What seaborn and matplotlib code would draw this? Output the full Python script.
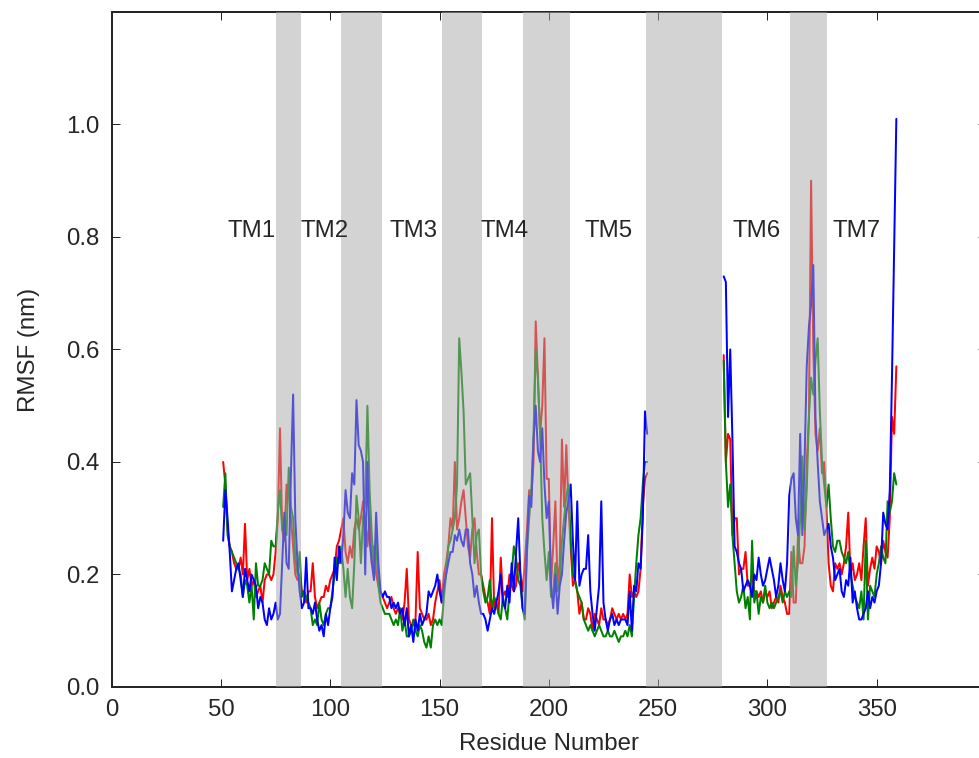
import numpy as np
import pandas as pd
import matplotlib
matplotlib.use("Agg")
import matplotlib.pyplot as plt
import seaborn as sns

# RMSF per residue, first block starts at residue 51, second at 280
red_a = [0.40, 0.36, 0.28, 0.25, 0.24, 0.22, 0.21, 0.21, 0.23, 0.20,
         0.29, 0.19, 0.21, 0.18, 0.19, 0.16, 0.17, 0.18, 0.15, 0.19,
         0.20, 0.20, 0.19, 0.20, 0.24, 0.30, 0.46, 0.28, 0.26, 0.36,
         0.35, 0.30, 0.25, 0.20, 0.19, 0.20, 0.17, 0.17, 0.15, 0.17,
         0.17, 0.22, 0.16, 0.14, 0.15, 0.16, 0.16, 0.18, 0.17, 0.19,
         0.20, 0.21, 0.25, 0.26, 0.28, 0.30, 0.24, 0.22, 0.25, 0.23,
         0.28, 0.30, 0.28, 0.30, 0.33, 0.30, 0.25, 0.30, 0.22, 0.25,
         0.20, 0.18, 0.17, 0.16, 0.15, 0.14, 0.15, 0.16, 0.14, 0.13,
         0.14, 0.13, 0.12, 0.15, 0.21, 0.12, 0.11, 0.11, 0.12, 0.24,
         0.14, 0.13, 0.12, 0.12, 0.13, 0.11, 0.12, 0.15, 0.17, 0.19,
         0.15, 0.20, 0.22, 0.25, 0.30, 0.28, 0.40, 0.28, 0.30, 0.33,
         0.35, 0.30, 0.25, 0.23, 0.28, 0.30, 0.24, 0.20, 0.20, 0.18,
         0.16, 0.15, 0.13, 0.30, 0.14, 0.15, 0.13, 0.23, 0.16, 0.17,
         0.16, 0.20, 0.18, 0.17, 0.18, 0.22, 0.20, 0.17, 0.22, 0.28,
         0.35, 0.34, 0.40, 0.65, 0.55, 0.45, 0.50, 0.62, 0.37, 0.37,
         0.18, 0.25, 0.33, 0.18, 0.22, 0.44, 0.32, 0.43, 0.32, 0.25,
         0.18, 0.19, 0.17, 0.13, 0.15, 0.12, 0.12, 0.14, 0.13, 0.10,
         0.13, 0.12, 0.11, 0.14, 0.12, 0.12, 0.11, 0.12, 0.14, 0.13,
         0.12, 0.13, 0.12, 0.13, 0.12, 0.13, 0.20, 0.16, 0.17, 0.16,
         0.17, 0.21, 0.32, 0.37, 0.38]
green_a = [0.32, 0.38, 0.27, 0.25, 0.24, 0.23, 0.22, 0.21, 0.20, 0.16,
           0.19, 0.18, 0.15, 0.18, 0.12, 0.22, 0.18, 0.18, 0.19, 0.22,
           0.21, 0.20, 0.26, 0.25, 0.25, 0.31, 0.35, 0.28, 0.30, 0.27,
           0.39, 0.32, 0.30, 0.23, 0.20, 0.24, 0.16, 0.17, 0.16, 0.15,
           0.14, 0.11, 0.12, 0.11, 0.15, 0.12, 0.11, 0.13, 0.14, 0.14,
           0.17, 0.20, 0.23, 0.22, 0.25, 0.21, 0.16, 0.21, 0.16, 0.14,
           0.22, 0.34, 0.30, 0.22, 0.30, 0.33, 0.50, 0.35, 0.27, 0.21,
           0.26, 0.18, 0.15, 0.14, 0.13, 0.13, 0.13, 0.12, 0.11, 0.12,
           0.11, 0.14, 0.10, 0.12, 0.09, 0.09, 0.10, 0.12, 0.10, 0.09,
           0.11, 0.10, 0.08, 0.07, 0.09, 0.07, 0.11, 0.12, 0.11, 0.12,
           0.11, 0.16, 0.20, 0.25, 0.26, 0.28, 0.30, 0.36, 0.62, 0.56,
           0.49, 0.36, 0.37, 0.38, 0.30, 0.22, 0.27, 0.28, 0.20, 0.17,
           0.15, 0.16, 0.19, 0.14, 0.16, 0.15, 0.13, 0.12, 0.16, 0.14,
           0.12, 0.17, 0.20, 0.25, 0.23, 0.19, 0.18, 0.14, 0.12, 0.24,
           0.30, 0.35, 0.45, 0.60, 0.55, 0.45, 0.30, 0.24, 0.19, 0.24,
           0.16, 0.17, 0.22, 0.17, 0.19, 0.26, 0.30, 0.34, 0.36, 0.26,
           0.20, 0.19, 0.17, 0.16, 0.15, 0.12, 0.11, 0.10, 0.11, 0.10,
           0.09, 0.10, 0.11, 0.10, 0.09, 0.09, 0.10, 0.09, 0.09, 0.10,
           0.09, 0.08, 0.09, 0.09, 0.10, 0.09, 0.11, 0.09, 0.16, 0.22,
           0.27, 0.30, 0.36, 0.40, 0.40]
blue_a = [0.26, 0.35, 0.30, 0.24, 0.17, 0.19, 0.21, 0.22, 0.19, 0.16,
          0.21, 0.19, 0.17, 0.20, 0.19, 0.18, 0.14, 0.16, 0.15, 0.12,
          0.11, 0.14, 0.12, 0.13, 0.15, 0.12, 0.13, 0.22, 0.31, 0.22,
          0.21, 0.38, 0.52, 0.30, 0.22, 0.17, 0.14, 0.15, 0.23, 0.14,
          0.14, 0.13, 0.15, 0.12, 0.10, 0.11, 0.09, 0.13, 0.11, 0.14,
          0.16, 0.23, 0.19, 0.25, 0.22, 0.27, 0.35, 0.31, 0.30, 0.38,
          0.36, 0.51, 0.43, 0.42, 0.40, 0.20, 0.40, 0.26, 0.22, 0.19,
          0.31, 0.22, 0.17, 0.16, 0.17, 0.16, 0.16, 0.14, 0.15, 0.14,
          0.15, 0.13, 0.14, 0.11, 0.14, 0.09, 0.11, 0.08, 0.12, 0.10,
          0.13, 0.11, 0.12, 0.13, 0.17, 0.16, 0.17, 0.18, 0.20, 0.17,
          0.15, 0.18, 0.20, 0.22, 0.24, 0.24, 0.27, 0.26, 0.28, 0.26,
          0.25, 0.28, 0.28, 0.22, 0.20, 0.16, 0.18, 0.15, 0.13, 0.13,
          0.12, 0.10, 0.12, 0.14, 0.13, 0.15, 0.17, 0.20, 0.15, 0.14,
          0.18, 0.15, 0.22, 0.17, 0.24, 0.30, 0.20, 0.14, 0.13, 0.25,
          0.34, 0.32, 0.44, 0.50, 0.42, 0.40, 0.46, 0.36, 0.30, 0.33,
          0.18, 0.14, 0.20, 0.13, 0.18, 0.20, 0.26, 0.31, 0.33, 0.36,
          0.26, 0.19, 0.33, 0.18, 0.20, 0.21, 0.21, 0.27, 0.17, 0.13,
          0.10, 0.14, 0.18, 0.33, 0.15, 0.12, 0.10, 0.12, 0.13, 0.11,
          0.12, 0.11, 0.12, 0.12, 0.12, 0.11, 0.17, 0.10, 0.18, 0.17,
          0.22, 0.21, 0.30, 0.49, 0.45]

red_b = [0.59, 0.40, 0.45, 0.44, 0.27, 0.30, 0.30, 0.20, 0.21, 0.21,
         0.24, 0.18, 0.18, 0.20, 0.17, 0.17, 0.16, 0.17, 0.15, 0.17,
         0.16, 0.17, 0.14, 0.15, 0.16, 0.15, 0.18, 0.16, 0.15, 0.13,
         0.13, 0.24, 0.15, 0.15, 0.27, 0.22, 0.22, 0.25, 0.40, 0.48,
         0.90, 0.60, 0.45, 0.42, 0.46, 0.38, 0.40, 0.32, 0.22, 0.18,
         0.17, 0.22, 0.21, 0.22, 0.20, 0.22, 0.25, 0.31, 0.20, 0.22,
         0.19, 0.20, 0.22, 0.19, 0.25, 0.30, 0.18, 0.21, 0.23, 0.21,
         0.25, 0.24, 0.22, 0.26, 0.24, 0.23, 0.30, 0.48, 0.45, 0.57]
green_b = [0.58, 0.40, 0.32, 0.36, 0.27, 0.22, 0.17, 0.15, 0.16, 0.18,
           0.14, 0.16, 0.12, 0.26, 0.15, 0.17, 0.13, 0.16, 0.15, 0.18,
           0.15, 0.14, 0.15, 0.14, 0.15, 0.16, 0.17, 0.15, 0.17, 0.16,
           0.17, 0.16, 0.25, 0.18, 0.22, 0.30, 0.41, 0.28, 0.35, 0.48,
           0.55, 0.52, 0.58, 0.62, 0.49, 0.40, 0.36, 0.32, 0.36, 0.30,
           0.25, 0.24, 0.26, 0.26, 0.24, 0.23, 0.22, 0.24, 0.20, 0.18,
           0.16, 0.15, 0.14, 0.17, 0.12, 0.26, 0.12, 0.18, 0.17, 0.16,
           0.20, 0.22, 0.25, 0.23, 0.22, 0.33, 0.31, 0.33, 0.38, 0.36]
blue_b = [0.73, 0.72, 0.48, 0.60, 0.44, 0.25, 0.24, 0.22, 0.21, 0.17,
          0.18, 0.19, 0.18, 0.16, 0.20, 0.19, 0.23, 0.20, 0.18, 0.19,
          0.21, 0.23, 0.21, 0.19, 0.16, 0.18, 0.22, 0.19, 0.17, 0.22,
          0.34, 0.37, 0.38, 0.30, 0.27, 0.45, 0.27, 0.40, 0.57, 0.64,
          0.68, 0.75, 0.48, 0.40, 0.33, 0.30, 0.27, 0.28, 0.29, 0.25,
          0.23, 0.19, 0.20, 0.21, 0.17, 0.16, 0.19, 0.18, 0.23, 0.15,
          0.17, 0.14, 0.12, 0.12, 0.13, 0.14, 0.17, 0.14, 0.16, 0.15,
          0.17, 0.18, 0.22, 0.31, 0.29, 0.28, 0.35, 0.55, 0.78, 1.01]

start_a = 51
start_b = 280

# loop regions (shaded) and helix labels
loops = [(75, 86.5), (105, 123.5), (151, 169.3), (188.3, 209.7), (244.6, 279.3), (310.2, 327.5)]
tm_labels = ["TM1", "TM2", "TM3", "TM4", "TM5", "TM6", "TM7"]
tm_x = [53, 86.6, 127.3, 168.8, 216.2, 284, 330]

rows = []
for name, seg_a, seg_b in [("red", red_a, red_b), ("green", green_a, green_b), ("blue", blue_a, blue_b)]:
    for seg, start, vals in [("a", start_a, seg_a), ("b", start_b, seg_b)]:
        for i, v in enumerate(vals):
            rows.append({"residue": start + i, "rmsf": v, "run": name, "seg": seg})
df = pd.DataFrame(rows)

sns.set_style("ticks", {"xtick.direction": "in", "ytick.direction": "in",
                        "xtick.top": True, "ytick.right": True})
plt.rcParams['font.family'] = ['Liberation Sans', 'DejaVu Sans']
plt.rcParams['font.size'] = 12
plt.rcParams['xtick.major.size'] = 4
plt.rcParams['ytick.major.size'] = 4
plt.rcParams['xtick.major.width'] = 0.5
plt.rcParams['ytick.major.width'] = 0.5

fig = plt.figure(figsize=(979 / 144, 758 / 144), dpi=144)
ax = fig.add_axes([0.1141, 0.0937, 0.893, 0.8905])

sns.lineplot(data=df, x="residue", y="rmsf", hue="run", units="seg", estimator=None,
             hue_order=["red", "green", "blue"],
             palette={"red": "r", "green": "g", "blue": "b"},
             linewidth=1.0, legend=False, ax=ax, zorder=2)

for lo, hi in loops:
    ax.axvspan(lo, hi, color="darkgray", alpha=0.5, lw=0, zorder=3)

for lab, x in zip(tm_labels, tm_x):
    ax.text(x, 0.8, lab, fontsize=12, ha="left", va="baseline", zorder=4)

ax.set_xlim(0, 400)
ax.set_ylim(0, 1.2)
ax.set_xticks(np.arange(0, 351, 50))
ax.set_yticks(np.arange(0, 1.01, 0.2))
ax.set_xlabel("Residue Number", fontsize=12, labelpad=6)
ax.set_ylabel("RMSF (nm)", fontsize=12, labelpad=13)
for s in ax.spines.values():
    s.set_linewidth(1.0)
ax.tick_params(labelsize=12, pad=6)

fig.savefig("out.png", dpi=144)
